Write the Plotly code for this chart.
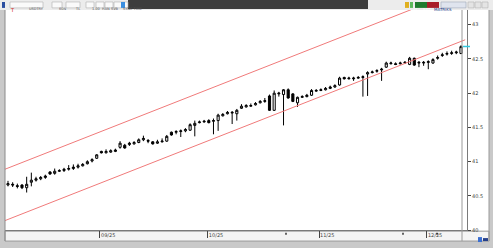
import plotly.graph_objects as go

W, H = 493, 248

# ---- data ----
opens = [40.66, 40.67, 40.65, 40.66, 40.62, 40.70, 40.73, 40.75, 40.77, 40.85,
         40.83, 40.86, 40.87, 40.89, 40.90, 40.92, 40.94, 40.97, 41.01, 41.05,
         41.15, 41.13, 41.14, 41.15, 41.21, 41.24, 41.25, 41.26, 41.28, 41.32,
         41.31, 41.29, 41.27, 41.29, 41.30, 41.43, 41.43, 41.44, 41.45, 41.46,
         41.53, 41.57, 41.58, 41.60, 41.59, 41.60, 41.67, 41.70, 41.71, 41.70,
         41.78, 41.80, 41.81, 41.83, 41.86, 41.88, 41.96, 41.75, 41.99, 41.98,
         42.05, 41.99, 41.86, 41.94, 41.95, 41.97, 42.03, 42.04, 42.05, 42.07,
         42.09, 42.12, 42.23, 42.21, 42.21, 42.22, 42.23, 42.28, 42.30, 42.32,
         42.34, 42.38, 42.43, 42.43, 42.43, 42.44, 42.42, 42.51, 42.44, 42.44,
         42.45, 42.44, 42.51, 42.55, 42.57, 42.58, 42.59, 42.58]
highs = [40.72, 40.70, 40.68, 40.67, 40.78, 40.84, 40.78, 40.79, 40.81, 40.86,
         40.90, 40.89, 40.91, 40.95, 40.96, 40.97, 40.98, 41.02, 41.05, 41.11,
         41.16, 41.18, 41.18, 41.19, 41.30, 41.26, 41.29, 41.30, 41.34, 41.38,
         41.33, 41.30, 41.32, 41.34, 41.39, 41.44, 41.46, 41.47, 41.49, 41.56,
         41.60, 41.60, 41.61, 41.62, 41.63, 41.70, 41.71, 41.74, 41.74, 41.77,
         41.84, 41.84, 41.85, 41.87, 41.90, 41.93, 41.98, 42.04, 42.02, 42.06,
         42.07, 42.00, 41.95, 41.97, 41.99, 42.06, 42.06, 42.07, 42.09, 42.11,
         42.13, 42.24, 42.24, 42.24, 42.24, 42.25, 42.26, 42.32, 42.33, 42.35,
         42.37, 42.46, 42.46, 42.45, 42.46, 42.47, 42.53, 42.52, 42.47, 42.47,
         42.48, 42.51, 42.55, 42.59, 42.61, 42.62, 42.62, 42.70]
lows = [40.64, 40.63, 40.61, 40.60, 40.55, 40.64, 40.71, 40.73, 40.75, 40.81,
        40.81, 40.85, 40.85, 40.87, 40.88, 40.90, 40.93, 40.96, 40.99, 41.04,
        41.12, 41.12, 41.13, 41.14, 41.19, 41.19, 41.23, 41.25, 41.27, 41.30,
        41.27, 41.25, 41.26, 41.28, 41.29, 41.38, 41.40, 41.36, 41.43, 41.45,
        41.37, 41.56, 41.57, 41.56, 41.40, 41.45, 41.66, 41.69, 41.55, 41.60,
        41.77, 41.79, 41.80, 41.82, 41.85, 41.86, 41.74, 41.74, 41.95, 41.53,
        41.92, 41.87, 41.80, 41.93, 41.94, 41.96, 42.02, 42.03, 42.04, 42.06,
        42.08, 42.11, 42.20, 42.20, 42.18, 42.21, 41.95, 41.96, 42.29, 42.30,
        42.18, 42.37, 42.42, 42.41, 42.42, 42.43, 42.41, 42.40, 42.38, 42.40,
        42.35, 42.43, 42.49, 42.53, 42.55, 42.56, 42.57, 42.57]
closes = [40.68, 40.66, 40.64, 40.62, 40.67, 40.73, 40.75, 40.77, 40.79, 40.82,
          40.86, 40.87, 40.89, 40.90, 40.92, 40.94, 40.96, 41.00, 41.03, 41.10,
          41.13, 41.15, 41.16, 41.17, 41.27, 41.20, 41.27, 41.28, 41.32, 41.34,
          41.30, 41.26, 41.29, 41.30, 41.37, 41.39, 41.44, 41.45, 41.47, 41.54,
          41.56, 41.58, 41.59, 41.57, 41.60, 41.68, 41.69, 41.72, 41.72, 41.75,
          41.81, 41.82, 41.82, 41.85, 41.88, 41.89, 41.75, 42.00, 42.00, 42.05,
          41.93, 41.88, 41.94, 41.95, 41.97, 42.04, 42.04, 42.05, 42.07, 42.09,
          42.11, 42.22, 42.21, 42.22, 42.22, 42.23, 42.24, 42.30, 42.31, 42.33,
          42.35, 42.44, 42.44, 42.42, 42.44, 42.45, 42.51, 42.41, 42.45, 42.45,
          42.46, 42.49, 42.52, 42.56, 42.58, 42.59, 42.60, 42.68]
bars = list(range(len(closes)))

# regression channel (two end points, in bar index / price)
channel_x = [-0.64, 97.9]
channel_lower = [40.14, 42.78]
channel_upper = [40.89, 43.53]

x_tick_vals = [19.7, 42.8, 66.6, 89.7]
x_tick_text = ["09/25", "10/25", "11/25", "12/25"]
y_tick_vals = [40, 40.5, 41, 41.5, 42, 42.5, 43]
y_tick_text = ["40", "40.5", "41", "41.5", "42", "42.5", "43"]
last_price = 42.68

# ---- geometry helpers ----
def px(x):
    return x / W


def py(y):
    return 1 - y / H

PLOT_L, PLOT_R, PLOT_T, PLOT_B = 5, 467, 10, 233
X0 = -0.64
X1 = X0 + (PLOT_R - PLOT_L) / 4.67
Y1 = 43 + (25 - PLOT_T) / 69.3

fig = go.Figure()
fig.add_trace(go.Candlestick(
    x=bars, open=opens, high=highs, low=lows, close=closes,
    increasing=dict(line=dict(color="#000000", width=1), fillcolor="#ffffff"),
    decreasing=dict(line=dict(color="#000000", width=1), fillcolor="#000000"),
    whiskerwidth=0, showlegend=False, hoverinfo="skip",
))
for yy in (channel_lower, channel_upper):
    fig.add_trace(go.Scatter(x=channel_x, y=yy, mode="lines",
                             line=dict(color="#f07a7a", width=1),
                             showlegend=False, hoverinfo="skip"))

shapes = []
ann = []
# window background parts
shapes.append(dict(type="rect", xref="paper", yref="paper", x0=px(0), x1=px(493), y0=py(248), y1=py(0),
                   fillcolor="#c9c9c9", line=dict(width=0), layer="below"))
shapes.append(dict(type="rect", xref="paper", yref="paper", x0=px(PLOT_L), x1=px(489), y0=py(244), y1=py(PLOT_T),
                   fillcolor="#ffffff", line=dict(width=0), layer="below"))
# bottom axis strip
shapes.append(dict(type="rect", xref="paper", yref="paper", x0=px(PLOT_L), x1=px(489), y0=py(244), y1=py(PLOT_B + 1),
                   fillcolor="#f4f4f4", line=dict(color="#9a9a9a", width=1), layer="below"))
# plot frame lines
shapes.append(dict(type="line", xref="paper", yref="paper", x0=px(PLOT_L), x1=px(PLOT_L), y0=py(244), y1=py(PLOT_T),
                   line=dict(color="#8a8a8a", width=1)))
shapes.append(dict(type="line", xref="paper", yref="paper", x0=px(462), x1=px(462), y0=py(244), y1=py(PLOT_T),
                   line=dict(color="#9a9a9a", width=1)))
shapes.append(dict(type="line", xref="paper", yref="paper", x0=px(489), x1=px(489), y0=py(244), y1=py(PLOT_T),
                   line=dict(color="#9a9a9a", width=1)))
# last price marker
shapes.append(dict(type="line", xref="paper", yref="y", x0=px(463), x1=px(470), y0=last_price, y1=last_price,
                   line=dict(color="#33c8e0", width=1.5)))
# small x-axis dots
for xd in (286, 403, 437):
    shapes.append(dict(type="rect", xref="paper", yref="paper", x0=px(xd - 0.6), x1=px(xd + 0.6),
                       y0=py(237.5), y1=py(235.5), fillcolor="#000", line=dict(width=0)))

# toolbar
shapes.append(dict(type="rect", xref="paper", yref="paper", x0=px(0), x1=px(493), y0=py(PLOT_T), y1=py(0),
                   fillcolor="#ececec", line=dict(width=0)))
shapes.append(dict(type="rect", xref="paper", yref="paper", x0=px(128), x1=px(368), y0=py(9), y1=py(0),
                   fillcolor="#3d3d3d", line=dict(width=0)))
boxes = [(10, 43, "USDTRY"), (52, 62, "60N"), (66, 80, "TL"), (86, 94, "1.00"),
         (96, 104, "HAN"), (105, 113, "SVB"), (114, 128, "SYNC TIME")]
for x0, x1, t in boxes:
    shapes.append(dict(type="rect", xref="paper", yref="paper", x0=px(x0), x1=px(x1), y0=py(8), y1=py(2),
                       fillcolor="#fafafa", line=dict(color="#b0b0b0", width=0.6)))
    ann.append(dict(x=px((x0 + x1) / 2), y=py(5), xref="paper", yref="paper", text=t, showarrow=False,
                    font=dict(size=3.5, color="#555", family="DejaVu Sans")))
shapes.append(dict(type="rect", xref="paper", yref="paper", x0=px(2), x1=px(5), y0=py(8), y1=py(2),
                   fillcolor="#2a4ea0", line=dict(width=0)))
ann.append(dict(x=px(7.5), y=py(5), xref="paper", yref="paper", text="T", showarrow=False,
                font=dict(size=5, color="#d02020", family="DejaVu Sans")))
shapes.append(dict(type="rect", xref="paper", yref="paper", x0=px(121), x1=px(125), y0=py(8), y1=py(2),
                   fillcolor="#3a8ee0", line=dict(width=0)))
shapes.append(dict(type="rect", xref="paper", yref="paper", x0=px(405), x1=px(409), y0=py(8), y1=py(2),
                   fillcolor="#e0b020", line=dict(width=0)))
shapes.append(dict(type="rect", xref="paper", yref="paper", x0=px(410), x1=px(413), y0=py(8), y1=py(2),
                   fillcolor="#5cb85c", line=dict(width=0)))
shapes.append(dict(type="rect", xref="paper", yref="paper", x0=px(415), x1=px(427), y0=py(8), y1=py(2),
                   fillcolor="#1f7a2e", line=dict(width=0)))
ann.append(dict(x=px(421), y=py(5), xref="paper", yref="paper", text="AL", showarrow=False,
                font=dict(size=4, color="#ffffff", family="DejaVu Sans")))
shapes.append(dict(type="rect", xref="paper", yref="paper", x0=px(427), x1=px(439), y0=py(8), y1=py(2),
                   fillcolor="#a81c28", line=dict(width=0)))
ann.append(dict(x=px(433), y=py(5), xref="paper", yref="paper", text="SAT", showarrow=False,
                font=dict(size=4, color="#ffffff", family="DejaVu Sans")))
shapes.append(dict(type="rect", xref="paper", yref="paper", x0=px(441), x1=px(466), y0=py(8), y1=py(2),
                   fillcolor="#dfe4ee", line=dict(color="#a0a8b8", width=0.6)))
ann.append(dict(x=px(453.5), y=py(5), xref="paper", yref="paper", text="MATRIKS", showarrow=False,
                font=dict(size=4, color="#24408a", family="DejaVu Sans")))
for x0 in (468, 475, 482):
    shapes.append(dict(type="rect", xref="paper", yref="paper", x0=px(x0), x1=px(x0 + 6), y0=py(8), y1=py(2),
                       fillcolor="#e4e4e4", line=dict(color="#b4b4b4", width=0.6)))
# bottom-right icons
shapes.append(dict(type="rect", xref="paper", yref="paper", x0=px(478), x1=px(482), y0=py(245), y1=py(240),
                   fillcolor="#3a6ed0", line=dict(width=0)))
shapes.append(dict(type="rect", xref="paper", yref="paper", x0=px(483), x1=px(488), y0=py(244), y1=py(241),
                   fillcolor="#26408a", line=dict(width=0)))

fig.update_layout(
    width=W, height=H, margin=dict(l=0, r=0, t=0, b=0),
    paper_bgcolor="#c9c9c9", plot_bgcolor="#ffffff",
    shapes=shapes, annotations=ann, showlegend=False,
    boxgap=0.35,
    xaxis=dict(domain=[px(PLOT_L), px(PLOT_R)], range=[X0, X1], showgrid=False, zeroline=False,
               rangeslider=dict(visible=False), tickvals=x_tick_vals, ticktext=x_tick_text,
               ticks="outside", ticklen=7, tickcolor="#444", tickwidth=1,
               ticklabelposition="outside right",
               tickfont=dict(size=5, color="#444", family="DejaVu Sans"),
               showline=True, linecolor="#7a7a7a", linewidth=1),
    yaxis=dict(domain=[py(PLOT_B), py(PLOT_T)], range=[40, Y1], side="right", showgrid=False, zeroline=False,
               tickvals=y_tick_vals, ticktext=y_tick_text, ticks="outside", ticklen=3, tickcolor="#444",
               tickfont=dict(size=5, color="#444", family="DejaVu Sans"),
               showline=True, linecolor="#7a7a7a", linewidth=1),
)

fig.write_html("out.html")
